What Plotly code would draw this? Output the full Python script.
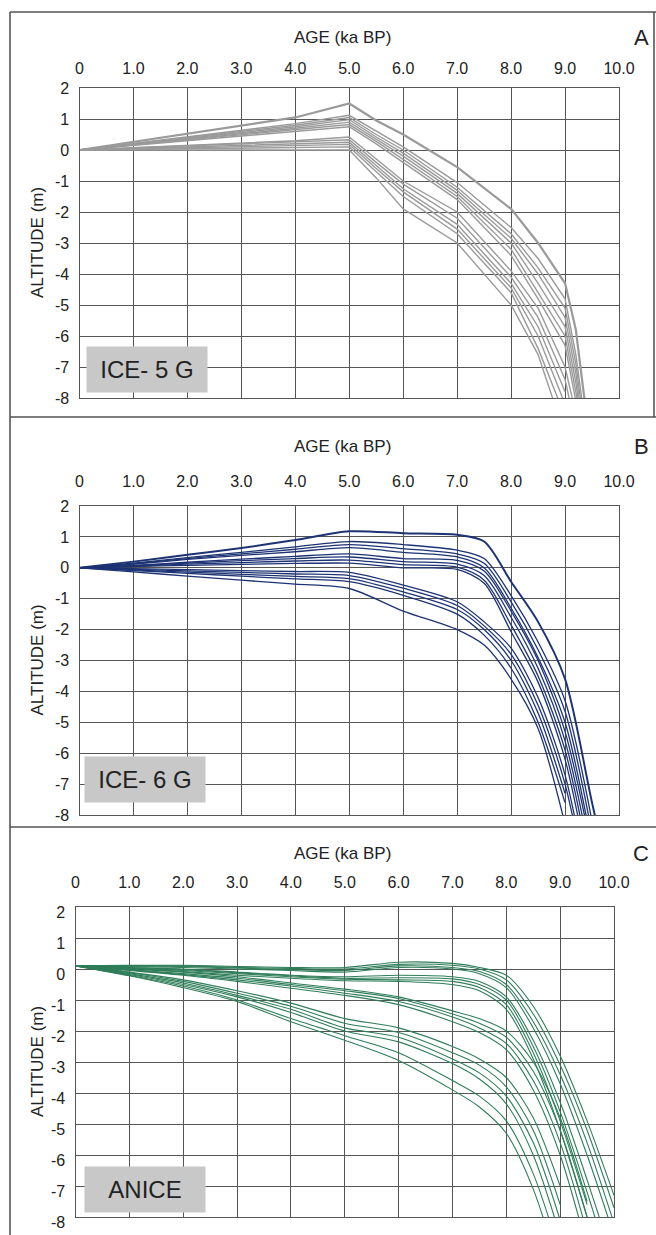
import plotly.graph_objects as go

#---------------------------------Data-----------------------------------------------------------

age_ticks = [0, 1, 2, 3, 4, 5, 6, 7, 8, 9, 10]
age_labels = ["0", "1.0", "2.0", "3.0", "4.0", "5.0", "6.0", "7.0", "8.0", "9.0", "10.0"]
alt_ticks = [2, 1, 0, -1, -2, -3, -4, -5, -6, -7, -8]
alt_labels = ["2", "1", "0", "-1", "-2", "-3", "-4", "-5", "-6", "-7", "-8"]

# Panel A - ICE-5G (ages in ka BP, altitudes in m)
ka_ice5g = [0, 4, 5, 5.5, 6, 7, 8, 8.5, 9, 9.2, 9.4]
ice5g = [
    [0, 1.05, 1.50, 0.95, 0.50, -0.55, -1.90, -3.00, -4.30, -5.80, -8.60],
    [0, 0.85, 1.12, 0.60, 0.10, -1.05, -2.50, -3.50, -4.80, -6.60, -9.20],
    [0, 0.80, 1.05, 0.50, 0.00, -1.20, -2.70, -3.80, -5.10, -6.90, -9.50],
    [0, 0.75, 0.98, 0.42, -0.10, -1.30, -2.85, -4.00, -5.40, -7.20, -9.80],
    [0, 0.70, 0.90, 0.35, -0.20, -1.40, -3.00, -4.30, -5.70, -7.50, -10.0],
    [0, 0.65, 0.82, 0.28, -0.30, -1.50, -3.20, -4.60, -6.00, -7.80, -10.3],
    [0, 0.60, 0.75, 0.20, -0.40, -1.60, -3.40, -4.80, -6.30, -8.10, -10.5],
    [0, 0.30, 0.42, -0.30, -1.00, -2.00, -3.90, -5.10, -7.00, -8.50],
    [0, 0.25, 0.33, -0.40, -1.10, -2.20, -4.10, -5.40, -7.40, -9.00],
    [0, 0.20, 0.25, -0.50, -1.25, -2.40, -4.30, -5.70, -7.80],
    [0, 0.15, 0.18, -0.60, -1.35, -2.55, -4.45, -6.00, -8.20],
    [0, 0.08, 0.10, -0.70, -1.50, -2.70, -4.60, -6.40, -8.60],
    [0, 0.00, 0.00, -0.90, -1.90, -3.00, -5.00, -6.60, -9.20],
]

# Panel B - ICE-6G
ka_ice6g = [0, 1, 2, 3, 4, 5, 6, 7, 7.5, 8, 8.5, 9, 9.5, 10]
ice6g = [
    [0, 0.20, 0.42, 0.64, 0.90, 1.18, 1.12, 1.07, 0.85, -0.45, -1.75, -3.60, -7.60, -11.5],
    [0, 0.15, 0.33, 0.50, 0.68, 0.85, 0.75, 0.57, 0.30, -0.90, -2.40, -4.30, -8.20],
    [0, 0.13, 0.30, 0.45, 0.60, 0.75, 0.62, 0.45, 0.15, -1.10, -2.65, -4.65, -8.60],
    [0, 0.12, 0.27, 0.40, 0.52, 0.65, 0.50, 0.35, 0.00, -1.30, -2.90, -5.00, -9.00],
    [0, 0.08, 0.18, 0.28, 0.37, 0.45, 0.30, 0.24, -0.10, -1.40, -3.00, -5.30, -9.20],
    [0, 0.07, 0.15, 0.23, 0.30, 0.35, 0.20, 0.12, -0.25, -1.60, -3.25, -5.60, -9.60],
    [0, 0.05, 0.12, 0.17, 0.22, 0.25, 0.10, 0.02, -0.40, -1.85, -3.50, -5.90, -10.0],
    [0, 0.04, 0.08, 0.11, 0.14, 0.15, 0.00, -0.05, -0.50, -2.07, -3.70, -6.20, -10.4],
    [0, -0.03, -0.06, -0.09, -0.12, -0.15, -0.56, -1.10, -1.75, -2.60, -4.20, -6.70, -11.0],
    [0, -0.05, -0.10, -0.15, -0.20, -0.25, -0.66, -1.22, -1.88, -2.80, -4.45, -7.00, -11.3],
    [0, -0.07, -0.14, -0.21, -0.28, -0.35, -0.78, -1.35, -2.00, -3.00, -4.70, -7.30],
    [0, -0.09, -0.18, -0.27, -0.36, -0.45, -0.89, -1.50, -2.18, -3.25, -5.00, -7.60],
    [0, -0.13, -0.27, -0.40, -0.53, -0.67, -1.40, -2.00, -2.50, -3.60, -5.20, -8.30],
]

# Panel C - ANICE
ka_anice = [0, 1, 2, 3, 4, 5, 6, 7, 7.5, 8, 8.5, 9, 9.5, 10]
anice = [
    [0.1, 0.12, 0.12, 0.08, 0.05, 0.05, 0.22, 0.18, 0.05, -0.20, -1.20, -2.80, -4.90, -7.30],
    [0.1, 0.10, 0.10, 0.05, 0.02, 0.00, 0.15, 0.12, 0.00, -0.35, -1.45, -3.10, -5.20, -7.70],
    [0.1, 0.10, 0.08, 0.03, -0.02, -0.05, 0.10, 0.05, -0.08, -0.50, -1.70, -3.40, -5.60, -8.20],
    [0.1, 0.08, 0.05, 0.00, -0.05, -0.10, 0.05, 0.00, -0.15, -0.60, -1.90, -3.70, -6.00, -8.60],
    [0.1, 0.05, 0.00, -0.10, -0.20, -0.25, -0.20, -0.25, -0.40, -0.90, -2.30, -4.30, -6.80, -9.50],
    [0.1, 0.04, -0.02, -0.12, -0.22, -0.30, -0.28, -0.32, -0.50, -1.00, -2.50, -4.60, -7.20, -10.0],
    [0.1, 0.03, -0.05, -0.15, -0.25, -0.33, -0.35, -0.40, -0.60, -1.15, -2.70, -4.90, -7.60],
    [0.1, 0.02, -0.08, -0.20, -0.30, -0.38, -0.40, -0.50, -0.70, -1.30, -2.90, -5.20, -8.00],
    [0.1, 0.00, -0.10, -0.25, -0.45, -0.65, -0.90, -1.35, -1.60, -2.00, -3.00, -4.80, -7.50],
    [0.1, -0.02, -0.15, -0.30, -0.50, -0.70, -0.95, -1.45, -1.75, -2.20, -3.30, -5.20, -8.00],
    [0.1, -0.03, -0.18, -0.35, -0.55, -0.78, -1.05, -1.55, -1.90, -2.40, -3.60, -5.60, -8.50],
    [0.1, -0.05, -0.20, -0.40, -0.62, -0.85, -1.15, -1.70, -2.05, -2.60, -3.90, -6.00, -9.00],
    [0.1, -0.10, -0.35, -0.70, -1.10, -1.60, -1.90, -2.50, -2.90, -3.50, -4.80, -7.00],
    [0.1, -0.12, -0.40, -0.78, -1.20, -1.75, -2.05, -2.70, -3.10, -3.80, -5.20, -7.60],
    [0.1, -0.15, -0.45, -0.85, -1.30, -1.90, -2.20, -2.90, -3.35, -4.10, -5.60, -8.10],
    [0.1, -0.18, -0.50, -0.90, -1.40, -2.00, -2.35, -3.05, -3.55, -4.35, -6.00, -8.60],
    [0.1, -0.20, -0.55, -1.00, -1.60, -2.15, -2.70, -3.60, -4.10, -4.90, -6.60, -9.20],
    [0.1, -0.22, -0.60, -1.05, -1.70, -2.30, -2.95, -3.90, -4.45, -5.30, -7.10, -9.80],
]

#---------------------------------Layout helpers--------------------------------------

W, H = 656, 1235
FONT = "Liberation Sans, Arial, sans-serif"
GRID = "#555555"


def fx(px):
    return px / W


def fy(py):
    return 1 - py / H


def label(text, px, py, size, **kw):
    '''Text placed by its centre, in pixels from the top-left of the figure.'''
    return dict(text=text, x=fx(px), y=fy(py), xref="paper", yref="paper",
                xanchor="center", yanchor="middle", showarrow=False,
                font=dict(family=FONT, size=size, color="#222"), **kw)


panels = [
    dict(label="ICE- 5 G", letter="A", ka=ka_ice5g, curves=ice5g, color="#9a9a9a",
         width=1.4, top_width=2.2, shape="linear", x0=79.5, x1=619, y0=88, y1=398,
         title_y=37, tick_off=7, ylab_shift=0, box=(147, 370)),
    dict(label="ICE- 6 G", letter="B", ka=ka_ice6g, curves=ice6g, color="#1d3374",
         width=1.3, top_width=2.0, shape="spline", x0=79.5, x1=619, y0=506, y1=815,
         title_y=447, tick_off=12, ylab_shift=0, box=(145, 779)),
    dict(label="ANICE", letter="C", ka=ka_anice, curves=anice, color="#2f7d59",
         width=1.1, top_width=1.1, shape="spline", x0=75.5, x1=614, y0=907, y1=1217,
         title_y=853, tick_off=12, ylab_shift=5, box=(145, 1189)),
]

fig = go.Figure()
annotations = []
layout_axes = {}

for i, p in enumerate(panels):
    sfx = "" if i == 0 else str(i + 1)
    xref, yref = "x" + sfx, "y" + sfx

    # one line per model run (the first run of each model is drawn a bit heavier)
    for k, vals in enumerate(p["curves"]):
        fig.add_trace(go.Scatter(
            x=p["ka"][:len(vals)], y=vals, xaxis=xref, yaxis=yref, mode="lines",
            line=dict(color=p["color"], width=p["top_width"] if k == 0 else p["width"],
                      shape=p["shape"], smoothing=0.8 if p["shape"] == "spline" else None),
            showlegend=False, hoverinfo="skip"))

    layout_axes["xaxis" + sfx] = dict(
        domain=[fx(p["x0"]), fx(p["x1"])], anchor=yref, side="top", range=[0, 10],
        tickvals=age_ticks, ticktext=age_labels, showgrid=True, gridcolor=GRID, gridwidth=1.2,
        showline=True, mirror=True, linecolor=GRID, linewidth=1.2, zeroline=False, ticks="",
        automargin=False, ticklabelstandoff=p["tick_off"],
        tickfont=dict(family=FONT, size=16, color="#222"))
    layout_axes["yaxis" + sfx] = dict(
        domain=[fy(p["y1"]), fy(p["y0"])], anchor=xref, range=[-8, 2],
        tickvals=alt_ticks, ticktext=alt_labels, showgrid=True, gridcolor=GRID, gridwidth=1.2,
        showline=True, mirror=True, linecolor=GRID, linewidth=1.2, zeroline=False, ticks="",
        automargin=False, ticklabelstandoff=6, ticklabelshift=p["ylab_shift"],
        tickfont=dict(family=FONT, size=16, color="#222"))

    # axis titles, panel letter and model label box
    annotations.append(label("AGE (ka BP)", 342, p["title_y"], 17))
    annotations.append(label(p["letter"], 641, p["title_y"], 22))
    annotations.append(label("ALTITUDE (m)", 37, (p["y0"] + p["y1"]) / 2, 17, textangle=-90))
    annotations.append(label(p["label"], p["box"][0], p["box"][1], 24,
                             bgcolor="#c8c8c8", width=118, height=43, borderpad=1))

# panel frames
frame = dict(type="line", xref="paper", yref="paper", line=dict(color="#555", width=1.6))
shapes = [
    dict(frame, x0=fx(10), x1=1, y0=fy(12), y1=fy(12)),
    dict(frame, x0=fx(10), x1=fx(10), y0=fy(12), y1=0),
    dict(frame, x0=fx(10), x1=1, y0=fy(417), y1=fy(417)),
    dict(frame, x0=fx(10), x1=1, y0=fy(827), y1=fy(827)),
    dict(frame, x0=fx(654), x1=fx(654), y0=fy(12), y1=fy(417)),
]

fig.update_layout(
    width=W, height=H, margin=dict(l=0, r=0, t=0, b=0),
    paper_bgcolor="white", plot_bgcolor="white",
    annotations=annotations, shapes=shapes, **layout_axes)

# drop the browser's default page margin so the figure sits at the window corner
fig.write_html("out.html", config={"displayModeBar": False},
               post_script="document.body.style.margin = '0';")
